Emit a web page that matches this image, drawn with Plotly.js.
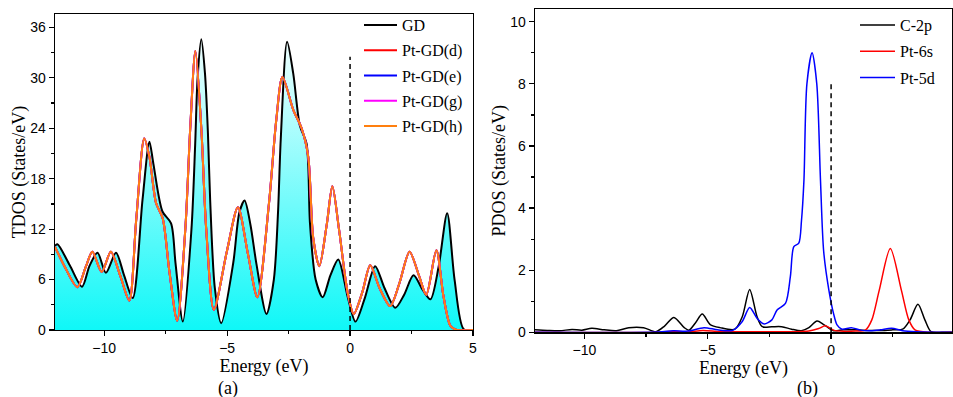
<!DOCTYPE html>
<html>
<head>
<meta charset="utf-8">
<script src="https://cdn.plot.ly/plotly-3.0.1.min.js"></script>
<style>html,body{margin:0;padding:0;background:#fff;}#chart{width:953px;height:397px;}</style>
</head>
<body>
<div id="chart"></div>
<script>
// ---------- Panel (a): TDOS ----------
const gdX = [-12.0,-11.9,-11.4,-10.9,-10.6,-10.27,-9.93,-9.52,-9.2,-8.84,-8.44,-8.16,-8.0,-7.63,-7.28,-7.1,-6.8,-6.45,-6.3,-6.2,-6.05,-5.9,-5.78,-5.69,-5.5,-5.24,-4.75,-4.5,-4.29,-4.05,-3.81,-3.4,-3.1,-2.93,-2.82,-2.56,-2.31,-2.04,-1.77,-1.63,-1.4,-1.11,-0.8,-0.48,-0.1,0.22,0.6,1.02,1.4,1.84,2.2,2.58,2.95,3.27,3.6,3.95,4.25,4.62,5.0];
const gdY = [10.0,10.2,7.7,5.15,7.6,9.2,6.8,9.2,6.6,3.8,15.5,22.4,19.8,14.1,12.7,8.0,1.0,12.0,22.0,30.0,34.6,30.5,23.4,15.5,5.0,0.8,8.0,14.0,15.4,12.5,7.9,1.9,6.0,14.0,22.6,34.3,30.5,24.3,22.2,12.7,6.0,3.9,6.5,8.4,4.0,1.0,3.8,7.6,5.0,2.65,4.2,6.5,4.8,3.65,7.5,13.9,6.0,0.1,0.0];

const ptgdX = [-12.0,-11.6,-11.09,-10.75,-10.48,-10.1,-9.73,-9.35,-8.98,-8.7,-8.37,-8.16,-7.89,-7.62,-7.35,-7.03,-6.7,-6.5,-6.29,-6.05,-5.85,-5.54,-5.0,-4.56,-4.15,-3.77,-3.3,-3.0,-2.75,-2.31,-1.97,-1.7,-1.5,-1.25,-0.95,-0.72,-0.45,-0.1,0.15,0.5,0.82,1.2,1.63,2.0,2.42,2.8,3.1,3.51,3.8,4.08,4.3,5.0];
const ptgdDY = [9.9,7.5,5.1,7.5,9.3,6.9,9.3,6.5,3.5,13.0,22.8,20.6,15.1,13.3,7.0,1.1,12.0,24.0,33.2,24.0,12.0,2.4,9.5,14.6,9.0,3.9,15.0,25.0,30.1,26.2,24.0,20.6,11.0,7.6,12.5,17.1,12.0,4.5,1.9,4.5,7.7,5.0,2.85,5.5,9.3,6.5,4.2,9.5,4.0,0.5,0.05,0.0];
const ptgdEY = ptgdDY.slice();
const ptgdGY = ptgdDY.slice();
const ptgdHY = ptgdDY.slice();

const fermiAX = [0, 0];
const fermiAY = [0, 32.5];

// ---------- Panel (b): PDOS ----------
const c2pX = [-12,-11.5,-11,-10.5,-10.1,-9.7,-9.2,-8.7,-8.2,-7.6,-7.1,-6.75,-6.37,-5.95,-5.76,-5.5,-5.22,-4.9,-4.5,-3.9,-3.6,-3.3,-3.0,-2.79,-2.4,-2.0,-1.6,-1.2,-0.9,-0.57,-0.3,0.1,0.5,1.0,1.5,2.0,2.5,2.9,3.2,3.52,3.8,4.05,4.5,4.9];
const c2pY = [0.08,0.06,0.05,0.09,0.07,0.13,0.08,0.05,0.15,0.15,0.02,0.2,0.48,0.15,0.07,0.3,0.59,0.25,0.15,0.1,0.5,1.38,0.5,0.18,0.18,0.18,0.1,0.05,0.15,0.36,0.25,0.05,0.08,0.08,0.06,0.06,0.08,0.1,0.4,0.9,0.4,0.02,0,0];

const pt6sX = [-12,-7,-6.4,-5.8,-5.2,-4.5,-3,-1.5,-0.9,-0.5,-0.23,0.1,0.5,1.0,1.4,1.65,1.95,2.4,2.85,3.15,3.4,4.0,4.9];
const pt6sY = [0,0,0.03,0.01,0.06,0.02,0.02,0.02,0.04,0.12,0.21,0.07,0.03,0.04,0.08,0.4,1.35,2.7,1.35,0.4,0.08,0,0];

const pt5dX = [-12,-7,-6.4,-5.8,-5.15,-4.6,-4.0,-3.6,-3.3,-3.0,-2.72,-2.4,-2.19,-1.85,-1.65,-1.51,-1.31,-1.2,-1.1,-0.98,-0.77,-0.58,-0.43,-0.3,-0.09,0.1,0.24,0.44,0.82,1.2,1.6,2.0,2.45,2.9,3.5,4.9];
const pt5dY = [0,0.01,0.05,0.04,0.15,0.08,0.06,0.35,0.8,0.45,0.27,0.4,0.72,0.93,1.8,2.76,2.87,3.6,4.9,8.0,9.0,8.0,4.9,2.6,1.36,0.6,0.24,0.1,0.15,0.07,0.05,0.08,0.13,0.05,0.02,0];

const fermiBX = [0, 0];
const fermiBY = [0, 8.0];

// ---------- Traces ----------
const serif = 'Liberation Serif';
const sans = 'Liberation Sans';
const lineA = {shape: 'spline', smoothing: 0.8, width: 2};
const lineB = {shape: 'spline', smoothing: 0.8, width: 1.5};
const traces = [
  // gradient fill under GD (no legend entry)
  {x: gdX, y: gdY, type: 'scatter', mode: 'lines', xaxis: 'x', yaxis: 'y', showlegend: false,
   line: Object.assign({}, lineA, {color: 'rgba(0,0,0,0)', width: 0}), fill: 'tozeroy',
   fillgradient: {type: 'vertical', start: 0, stop: 35,
     colorscale: [[0, 'rgb(15,248,248)'], [1, 'rgb(244,255,255)']]}},
  {x: gdX, y: gdY, name: 'GD', legendgroup: 'a1', type: 'scatter', mode: 'lines', xaxis: 'x', yaxis: 'y',
   line: Object.assign({}, lineA, {color: '#000000'})},
  {x: ptgdX, y: ptgdDY, name: 'Pt-GD(d)', legendgroup: 'a2', type: 'scatter', mode: 'lines', xaxis: 'x', yaxis: 'y',
   line: Object.assign({}, lineA, {color: '#ff0000'})},
  {x: ptgdX, y: ptgdEY, name: 'Pt-GD(e)', legendgroup: 'a3', type: 'scatter', mode: 'lines', xaxis: 'x', yaxis: 'y',
   line: Object.assign({}, lineA, {color: '#0000ff'})},
  {x: ptgdX, y: ptgdGY, name: 'Pt-GD(g)', legendgroup: 'a4', type: 'scatter', mode: 'lines', xaxis: 'x', yaxis: 'y',
   line: Object.assign({}, lineA, {color: '#ff00ff'})},
  {x: ptgdX, y: ptgdHY, name: 'Pt-GD(h)', legendgroup: 'a5', type: 'scatter', mode: 'lines', xaxis: 'x', yaxis: 'y',
   line: Object.assign({}, lineA, {color: '#ff7f0e'})},
  {x: fermiAX, y: fermiAY, type: 'scatter', mode: 'lines', xaxis: 'x', yaxis: 'y', showlegend: false,
   line: {color: '#000', width: 1.5, dash: '5px,4px'}},

  {x: c2pX, y: c2pY, name: 'C-2p', legendgroup: 'b1', type: 'scatter', mode: 'lines', xaxis: 'x2', yaxis: 'y2', legend: 'legend2',
   line: Object.assign({}, lineB, {color: '#000000'})},
  {x: pt6sX, y: pt6sY, name: 'Pt-6s', legendgroup: 'b2', type: 'scatter', mode: 'lines', xaxis: 'x2', yaxis: 'y2', legend: 'legend2',
   line: Object.assign({}, lineB, {color: '#ff0000'})},
  {x: pt5dX, y: pt5dY, name: 'Pt-5d', legendgroup: 'b3', type: 'scatter', mode: 'lines', xaxis: 'x2', yaxis: 'y2', legend: 'legend2',
   line: Object.assign({}, lineB, {color: '#0000ff'})},
  {x: fermiBX, y: fermiBY, type: 'scatter', mode: 'lines', xaxis: 'x2', yaxis: 'y2', showlegend: false,
   line: {color: '#000', width: 1.5, dash: '5px,4px'}}
];

const W = 953, H = 397;
const tickFont = {family: sans, size: 14, color: '#000'};
const titleFont = {family: serif, size: 18, color: '#000', weight: 'normal'};
const axisBase = {showline: true, linecolor: '#000', linewidth: 1.3, mirror: true, ticks: 'outside',
  ticklen: 5, tickwidth: 1.2, tickcolor: '#000', showgrid: false, zeroline: false, tickfont: tickFont};

const layout = {
  width: W, height: H,
  margin: {l: 0, r: 0, t: 0, b: 0},
  paper_bgcolor: '#fff', plot_bgcolor: '#fff',
  xaxis: Object.assign({}, axisBase, {domain: [55 / W, 473 / W], range: [-12, 5], dtick: 5, tick0: 0,
    minor: {dtick: 2.5, tick0: 0, ticks: 'outside', ticklen: 3, tickcolor: '#000'},
    title: {text: 'Energy (eV)', font: titleFont, standoff: 0}, anchor: 'y'}),
  yaxis: Object.assign({}, axisBase, {domain: [(H - 330) / H, (H - 14) / H], range: [0, 37.6], dtick: 6, tick0: 0,
    minor: {dtick: 3, tick0: 0, ticks: 'outside', ticklen: 3, tickcolor: '#000'},
    title: {text: 'TDOS (States/eV)', font: titleFont, standoff: 0}, anchor: 'x'}),
  xaxis2: Object.assign({}, axisBase, {domain: [535 / W, 952 / W], range: [-12, 4.9], dtick: 5, tick0: 0,
    minor: {dtick: 2.5, tick0: 0, ticks: 'outside', ticklen: 3, tickcolor: '#000'},
    title: {text: 'Energy (eV)', font: titleFont, standoff: 0}, anchor: 'y2'}),
  yaxis2: Object.assign({}, axisBase, {domain: [(H - 332.3) / H, (H - 9.3) / H], range: [0, 10.4], dtick: 2, tick0: 0,
    minor: {dtick: 1, tick0: 0, ticks: 'outside', ticklen: 3, tickcolor: '#000'},
    title: {text: 'PDOS (States/eV)', font: titleFont, standoff: 0}, anchor: 'x2'}),
  legend: {x: 359 / W, y: 1 - 8 / H, xanchor: 'left', yanchor: 'top', bgcolor: 'rgba(0,0,0,0)',
    font: {family: serif, size: 16, color: '#000'}, itemwidth: 33, tracegroupgap: 1.5},
  legend2: {x: 855 / W, y: 1 - 8 / H, xanchor: 'left', yanchor: 'top', bgcolor: 'rgba(0,0,0,0)',
    font: {family: serif, size: 16, color: '#000'}, itemwidth: 35, tracegroupgap: 2.5},
  annotations: [
    {text: '(a)', x: 228 / W, y: 1 - 388 / H, xref: 'paper', yref: 'paper', showarrow: false,
     font: titleFont, xanchor: 'center', yanchor: 'middle'},
    {text: '(b)', x: 807 / W, y: 1 - 388 / H, xref: 'paper', yref: 'paper', showarrow: false,
     font: titleFont, xanchor: 'center', yanchor: 'middle'}
  ],
  showlegend: true
};

Plotly.newPlot('chart', traces, layout, {displayModeBar: false, staticPlot: true});
</script>
</body>
</html>
